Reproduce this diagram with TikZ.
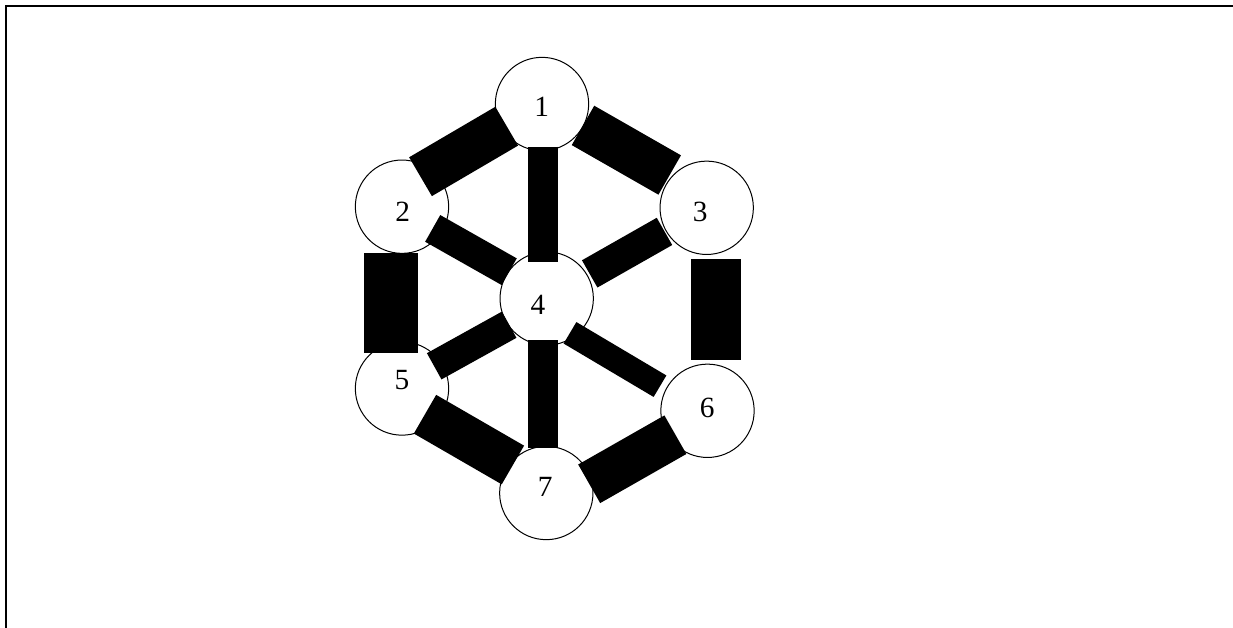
\documentclass[tikz,border=0pt]{standalone}
\usepackage{fontspec}
\setmainfont{Liberation Serif}
\begin{document}
\begin{tikzpicture}[x=0.75pt,y=-0.75pt,
  circ/.style={circle,draw,line width=0.75pt,fill=white,minimum size=70pt,inner sep=0pt},
  lbl/.style={font=\fontsize{22}{24}\selectfont,inner sep=0pt},
  bar/.style={draw=black,line cap=butt}]
\useasboundingbox (0,0) rectangle (1233,628);
\draw[line width=1.3pt] (5.8,628) -- (5.8,5.7) -- (1233,5.7);
% circles
\node[circ] (c1) at (542,104) {};
\node[circ] (c2) at (402,206.7) {};
\node[circ] (c3) at (706.7,207.8) {};
\node[circ] (c4) at (546.7,298.5) {};
\node[circ] (c5) at (402,388.5) {};
\node[circ] (c6) at (707.5,410.8) {};
\node[circ] (c7) at (546.3,493) {};
% bar end points
\coordinate (b12a) at (420.5,176.7); \coordinate (b12b) at (506.7,126.2);
\coordinate (b13a) at (583,125.4);   \coordinate (b13b) at (669.7,175);
\coordinate (b14a) at (543.3,146.7); \coordinate (b14b) at (543.3,261.7);
\coordinate (b24a) at (432.7,228.4); \coordinate (b24b) at (509.2,271.7);
\coordinate (b34a) at (664.5,231.4); \coordinate (b34b) at (589.7,273.9);
\coordinate (b25a) at (391,253.3);   \coordinate (b25b) at (391,353.3);
\coordinate (b36a) at (716,259);     \coordinate (b36b) at (716,360);
\coordinate (b45a) at (509.2,324.7); \coordinate (b45b) at (434.2,366.3);
\coordinate (b46a) at (570,332.8);   \coordinate (b46b) at (660,386.2);
\coordinate (b47a) at (543.3,340);   \coordinate (b47b) at (543.3,447.7);
\coordinate (b57a) at (425,414.2);   \coordinate (b57b) at (512.9,465);
\coordinate (b67a) at (675.4,434.7); \coordinate (b67b) at (589.2,483.8);
% bars
\draw[bar,line width=33.75pt] (b12a) -- (b12b);
\draw[bar,line width=34pt] (b13a) -- (b13b);
\draw[bar,line width=22.5pt] (b14a) -- (b14b);
\draw[bar,line width=23pt] (b24a) -- (b24b);
\draw[bar,line width=23.5pt] (b34a) -- (b34b);
\draw[bar,line width=40pt] (b25a) -- (b25b);
\draw[bar,line width=37.5pt] (b36a) -- (b36b);
\draw[bar,line width=22.5pt] (b45a) -- (b45b);
\draw[bar,line width=18.75pt] (b46a) -- (b46b);
\draw[bar,line width=22.5pt] (b47a) -- (b47b);
\draw[bar,line width=33.5pt] (b57a) -- (b57b);
\draw[bar,line width=33.3pt] (b67a) -- (b67b);
% labels
\node[lbl] (t1) at (541.7,106.7) {1};
\node[lbl] (t2) at (402.8,211.5) {2};
\node[lbl] (t3) at (700.2,211.5) {3};
\node[lbl] (t4) at (538,304.7) {4};
\node[lbl] (t5) at (402,380) {5};
\node[lbl] (t6) at (707.3,408.3) {6};
\node[lbl] (t7) at (545.3,486.7) {7};
\end{tikzpicture}
\end{document}
